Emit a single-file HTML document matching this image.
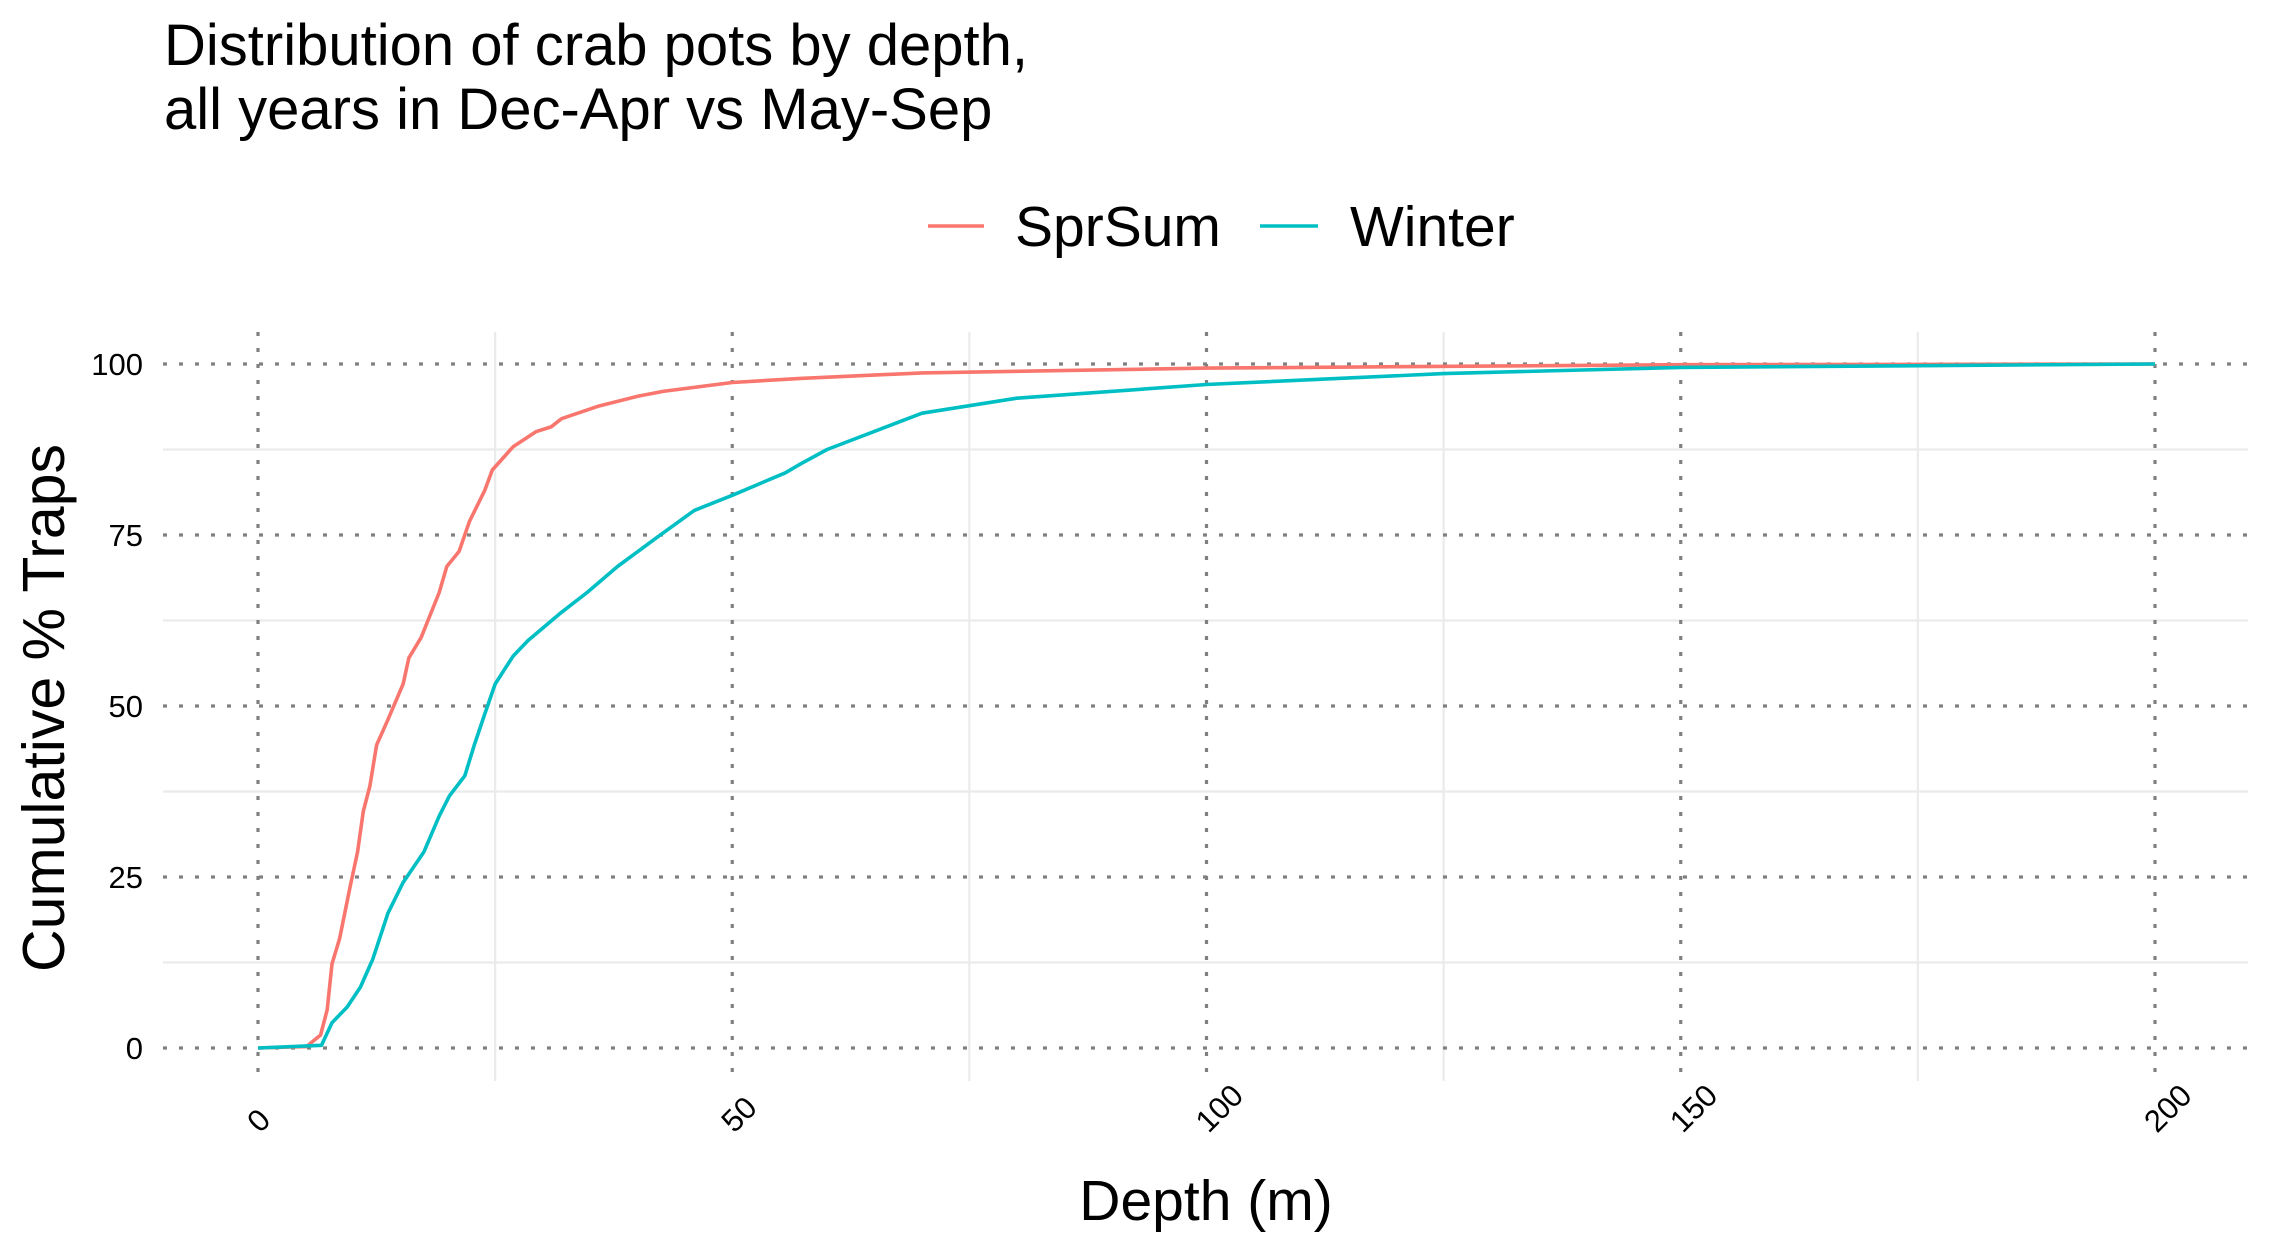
<!DOCTYPE html>
<html><head><meta charset="utf-8"><style>
html,body{margin:0;padding:0;background:#fff;}
svg{display:block;font-family:"Liberation Sans",Arial,sans-serif;}
</style></head><body>
<svg id="chart" width="2271" height="1253" viewBox="0 0 2271 1253">
<text x="164" y="65" font-size="58" fill="#000">Distribution of crab pots by depth,</text>
<text x="164" y="129" font-size="58" fill="#000">all years in Dec-Apr vs May-Sep</text>
<g>
<line x1="928" y1="226" x2="984" y2="226" stroke="#F8766D" stroke-width="3.5"/>
<text x="1015" y="246" font-size="57">SprSum</text>
<line x1="1260" y1="226" x2="1318" y2="226" stroke="#00BFC4" stroke-width="3.5"/>
<text x="1350" y="246" font-size="57">Winter</text>
</g>
<g id="grid"></g>
<g id="series"></g>
<g id="axes"></g>
<text transform="translate(64,708) rotate(-90)" text-anchor="middle" font-size="59">Cumulative % Traps</text>
<text x="1206" y="1220" text-anchor="middle" font-size="57">Depth (m)</text>
</svg>
<script>
const xTicks=[0,50,100,150,200];
const xMinor=[25,75,125,175];
const yTicks=[0,25,50,75,100];
const yMinor=[12.5,37.5,62.5,87.5];
const sprDepth=[0,5.1,6.6,7.3,7.8,8.6,9.7,10.5,11.1,11.8,12.5,13.7,15.3,15.9,17.2,19.1,19.9,21.2,22.3,23.9,24.7,26.9,29.3,30.9,32,35.8,40.1,42.7,50,57.2,70,100,150,200];
const sprPct=[0,0.2,1.9,5.6,12.3,16,23.5,28.7,34.6,38.3,44.3,48,53.2,57,60,66.6,70.4,72.6,77,81.5,84.5,87.9,90.1,90.8,92,93.8,95.3,96,97.3,97.9,98.7,99.4,99.9,100];
const winDepth=[0,6.7,7.8,9.4,10.8,12.1,13.7,15.3,17.5,19.1,20.2,21.8,22.8,23.9,25,26.9,28.5,32,34.7,37.9,42.2,46,50,55.6,57.2,60,70,80,100,125,150,200];
const winPct=[0,0.4,3.7,6,8.9,13,19.7,24.2,28.7,33.9,36.9,39.8,44.3,48.8,53.2,57.3,59.6,63.7,66.6,70.4,74.8,78.6,80.8,84.1,85.4,87.5,92.8,95,97,98.6,99.5,100];

const NS="http://www.w3.org/2000/svg";
const X0=258,X1=2155,Y0=1048,Y1=364;
const PL=163,PR=2248,PT=332,PB=1081;
function sx(v){return X0+(X1-X0)*v/200;}
function sy(v){return Y0+(Y1-Y0)*v/100;}
function mk(tag,attrs,parent){const e=document.createElementNS(NS,tag);for(const k in attrs)e.setAttribute(k,attrs[k]);parent.appendChild(e);return e;}
const grid=document.getElementById('grid'),series=document.getElementById('series'),axes=document.getElementById('axes');
yMinor.forEach(v=>{const l=mk('line',{x1:PL,x2:PR,y1:sy(v),y2:sy(v),stroke:'#EBEBEB','stroke-width':2.2},grid);

});
xMinor.forEach(v=>{const l=mk('line',{x1:sx(v),x2:sx(v),y1:PT,y2:PB,stroke:'#EBEBEB','stroke-width':2.2},grid);

});
yTicks.forEach(v=>{const l=mk('line',{x1:PL,x2:PR,y1:sy(v),y2:sy(v),stroke:'#808080','stroke-width':3.2,'stroke-dasharray':'4 12'},grid);


const t=mk('text',{x:143,y:sy(v)+11,'text-anchor':'end','font-size':31},axes);t.textContent=v;

});
xTicks.forEach(v=>{const l=mk('line',{x1:sx(v),x2:sx(v),y1:PT,y2:PB,stroke:'#808080','stroke-width':3.2,'stroke-dasharray':'4 12'},grid);


const t=mk('text',{transform:`translate(${sx(v)+2},1134) rotate(-45)`,'font-size':31},axes);t.textContent=v;

});
function path(xs,ys,color,name){const d=xs.map((x,i)=>(i?'L':'M')+sx(x).toFixed(1)+','+sy(ys[i]).toFixed(1)).join('');
const p=mk('path',{d:d,fill:'none',stroke:color,'stroke-width':3.6,'stroke-linejoin':'round'},series);

}
path(sprDepth,sprPct,'#F8766D','sprsum-line');
path(winDepth,winPct,'#00BFC4','winter-line');
</script>
</body></html>
